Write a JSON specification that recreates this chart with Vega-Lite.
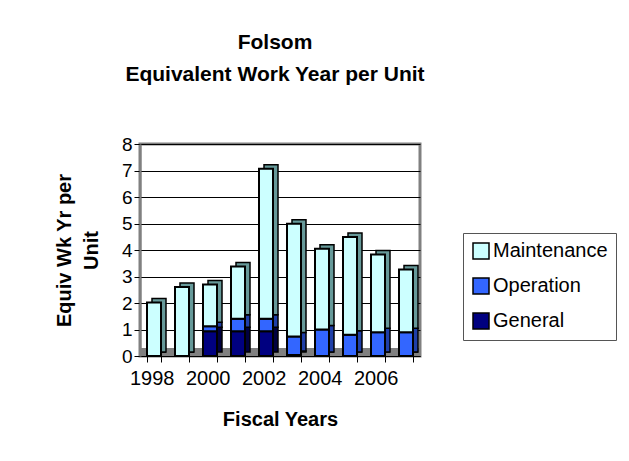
{
  "$schema": "https://vega.github.io/schema/vega-lite/v6.json",
  "width": 280,
  "height": 212,
  "autosize": "none",
  "padding": {"left": 140, "top": 144, "right": 209, "bottom": 105},
  "background": "white",
  "config": {
    "font": "Liberation Sans",
    "view": {"stroke": "#808080", "strokeWidth": 3},
    "axisY": {
      "titleFontSize": 20,
      "titleFontWeight": "bold",
      "titleColor": "black",
      "titleLineHeight": 27,
      "titlePadding": 20,
      "labelFontSize": 19,
      "labelColor": "black",
      "labelPadding": 2,
      "labelOverlap": false,
      "labelBound": false,
      "labelFlush": false,
      "tickColor": "black",
      "tickSize": 6,
      "tickCount": 8,
      "domainColor": "#808080",
      "domainWidth": 2,
      "grid": true,
      "gridColor": "black",
      "gridWidth": 1
    }
  },
  "title": {
    "text": ["Folsom", "Equivalent Work Year per Unit"],
    "fontSize": 21,
    "fontWeight": "bold",
    "lineHeight": 32,
    "anchor": "middle",
    "frame": "group",
    "offset": 50,
    "dx": -5,
    "color": "black"
  },
  "datasets": {
    "eff": [
      {"Year": 1998, "Component": "General", "Rank": 1, "Value": 0},
      {"Year": 1998, "Component": "Operation", "Rank": 2, "Value": 0},
      {"Year": 1998, "Component": "Maintenance", "Rank": 3, "Value": 2.02},
      {"Year": 1999, "Component": "General", "Rank": 1, "Value": 0},
      {"Year": 1999, "Component": "Operation", "Rank": 2, "Value": 0},
      {"Year": 1999, "Component": "Maintenance", "Rank": 3, "Value": 2.6},
      {"Year": 2000, "Component": "General", "Rank": 1, "Value": 0.93},
      {"Year": 2000, "Component": "Operation", "Rank": 2, "Value": 0.19},
      {"Year": 2000, "Component": "Maintenance", "Rank": 3, "Value": 1.58},
      {"Year": 2001, "Component": "General", "Rank": 1, "Value": 0.93},
      {"Year": 2001, "Component": "Operation", "Rank": 2, "Value": 0.48},
      {"Year": 2001, "Component": "Maintenance", "Rank": 3, "Value": 1.97},
      {"Year": 2002, "Component": "General", "Rank": 1, "Value": 0.93},
      {"Year": 2002, "Component": "Operation", "Rank": 2, "Value": 0.48},
      {"Year": 2002, "Component": "Maintenance", "Rank": 3, "Value": 5.66},
      {"Year": 2003, "Component": "General", "Rank": 1, "Value": 0.04},
      {"Year": 2003, "Component": "Operation", "Rank": 2, "Value": 0.7},
      {"Year": 2003, "Component": "Maintenance", "Rank": 3, "Value": 4.25},
      {"Year": 2004, "Component": "General", "Rank": 1, "Value": 0},
      {"Year": 2004, "Component": "Operation", "Rank": 2, "Value": 1.0},
      {"Year": 2004, "Component": "Maintenance", "Rank": 3, "Value": 3.05},
      {"Year": 2005, "Component": "General", "Rank": 1, "Value": 0},
      {"Year": 2005, "Component": "Operation", "Rank": 2, "Value": 0.8},
      {"Year": 2005, "Component": "Maintenance", "Rank": 3, "Value": 3.69},
      {"Year": 2006, "Component": "General", "Rank": 1, "Value": 0},
      {"Year": 2006, "Component": "Operation", "Rank": 2, "Value": 0.9},
      {"Year": 2006, "Component": "Maintenance", "Rank": 3, "Value": 2.93},
      {"Year": 2007, "Component": "General", "Rank": 1, "Value": 0},
      {"Year": 2007, "Component": "Operation", "Rank": 2, "Value": 0.9},
      {"Year": 2007, "Component": "Maintenance", "Rank": 3, "Value": 2.36}
    ]
  },
  "layer": [
    {
      "data": {"values": [{}]},
      "mark": {"type": "rect", "color": "#808080"},
      "encoding": {
        "y": {
          "datum": 0,
          "type": "quantitative",
          "scale": {"domain": [0, 8], "nice": false},
          "axis": {"title": ["Equiv Wk Yr per", "Unit"]}
        },
        "y2": {"datum": 0.3}
      }
    },
    {
      "data": {"name": "eff"},
      "mark": {"type": "bar", "xOffset": 5, "yOffset": -4, "stroke": "black", "strokeWidth": 1.5},
      "encoding": {
        "x": {"field": "Year", "type": "ordinal"},
        "y": {
          "field": "Value",
          "type": "quantitative",
          "stack": "zero",
          "axis": {"title": ["Equiv Wk Yr per", "Unit"]}
        },
        "order": {"field": "Rank", "type": "quantitative"},
        "color": {
          "field": "Component",
          "type": "nominal",
          "scale": {"domain": ["Maintenance", "Operation", "General"], "range": ["#669999", "#1f3fa8", "#000040"]},
          "legend": null
        }
      }
    },
    {
      "data": {"name": "eff"},
      "mark": {"type": "bar", "stroke": "black", "strokeWidth": 2},
      "encoding": {
        "x": {
          "field": "Year",
          "type": "ordinal",
          "scale": {"paddingInner": 0.5, "paddingOuter": 0.25},
          "axis": {
            "title": "Fiscal Years",
            "titleFontSize": 20,
            "titleFontWeight": "bold",
            "titleColor": "black",
            "titlePadding": 21,
            "labelAngle": 0,
            "labelFontSize": 20,
            "labelColor": "black",
            "labelOverlap": false,
            "labelExpr": "datum.value % 2 == 0 ? datum.label : ''",
            "tickBand": "extent",
            "labelOffset": 20,
            "tickColor": "black",
            "tickSize": 6,
            "domainColor": "black",
            "labelPadding": 16
          }
        },
        "y": {
          "field": "Value",
          "type": "quantitative",
          "stack": "zero",
          "axis": {"title": ["Equiv Wk Yr per", "Unit"]}
        },
        "order": {"field": "Rank", "type": "quantitative"},
        "color": {
          "field": "Component",
          "type": "nominal",
          "scale": {"domain": ["Maintenance", "Operation", "General"], "range": ["#CCFFFF", "#3366FF", "#000080"]},
          "legend": {
            "orient": "none",
            "legendX": 323,
            "legendY": 89,
            "title": null,
            "symbolType": "square",
            "symbolSize": 256,
            "symbolStrokeColor": "black",
            "symbolStrokeWidth": 1.5,
            "symbolOpacity": 1,
            "labelFontSize": 20,
            "labelColor": "black",
            "labelOffset": 2,
            "rowPadding": 13,
            "padding": 8,
            "strokeColor": "#555555",
            "fillColor": "white"
          }
        }
      }
    }
  ],
  "resolve": {"scale": {"color": "independent"}}
}
